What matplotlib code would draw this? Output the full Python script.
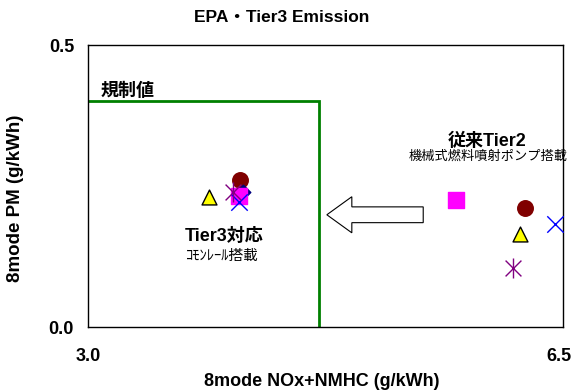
import matplotlib
matplotlib.use("Agg")
import matplotlib.pyplot as plt
from matplotlib.patches import FancyArrow
from matplotlib.transforms import ScaledTranslation

plt.rcParams["font.family"] = ["Liberation Sans", "Noto Sans CJK JP"]

# emission limit (NOx+NMHC, PM)
LIMIT_NOX = 4.7
LIMIT_PM = 0.4

# one entry per marker series: Tier3 engine vs Tier2 engine
series_names = ["circle", "diamond", "square", "triangle", "cross", "star"]
tier3_nox = [4.12, 4.14, 4.11, 3.89, 4.11, 4.07]
tier3_pm = [0.261, 0.239, 0.232, 0.230, 0.222, 0.239]
tier2_nox = [6.22, None, 5.71, 6.18, 6.44, 6.13]
tier2_pm = [0.211, None, 0.225, 0.165, 0.183, 0.105]

styles = {
    "circle": dict(marker="o", color="#800000", s=125),
    "diamond": dict(marker="D", color="#000080", s=55),
    "square": dict(marker="s", color="#ff00ff", s=120),
    "triangle": dict(marker="^", color="#ffff00", s=115, edgecolors="black",
                     linewidths=1),
    "cross": dict(marker="x", color="#0000ff", s=140, linewidths=1),
    "star": dict(marker="x", color="#800080", s=130, linewidths=1),
}

fig = plt.figure(figsize=(5.72, 3.92), dpi=100)
ax = fig.add_axes([0.1538, 0.1658, 0.8305, 0.7194])

for name, x3, y3, x2, y2 in zip(series_names, tier3_nox, tier3_pm,
                                tier2_nox, tier2_pm):
    xs = [x for x in (x3, x2) if x is not None]
    ys = [y for y in (y3, y2) if y is not None]
    ax.scatter(xs, ys, zorder=3, **styles[name])
    if name == "star":
        # asterisk = x plus a vertical bar
        ax.scatter(xs, ys, marker="|", color="#800080", s=200, linewidths=1,
                   zorder=3)

# regulation box
ax.plot([3.0, LIMIT_NOX, LIMIT_NOX], [LIMIT_PM, LIMIT_PM, 0.0],
        color="#008000", lw=2, zorder=2, solid_joinstyle="miter")
ax.text(3.09, LIMIT_PM + 0.002, "規制値", fontsize=13, fontweight="bold",
        va="bottom", ha="left")

# Tier2 -> Tier3 arrow
ax.add_patch(FancyArrow(5.47, 0.199, 4.76 - 5.47, 0, width=0.028,
                        head_width=0.064, head_length=0.184,
                        length_includes_head=True, fc="white", ec="black",
                        lw=0.8, zorder=2))

ax.text(5.94, 0.330, "従来Tier2", fontsize=13, fontweight="bold",
        ha="center", va="center")
ax.text(5.95, 0.303, "機械式燃料噴射ポンプ搭載", fontsize=9.5,
        ha="center", va="center")
ax.text(4.0, 0.160, "Tier3対応", fontsize=13, fontweight="bold",
        ha="center", va="center")
ax.text(3.99, 0.126, "ｺﾓﾝﾚｰﾙ搭載", fontsize=10.5,
        ha="center", va="center")

ax.set_xlim(3.0, 6.5)
ax.set_ylim(0.0, 0.5)
ax.set_xticks([3.0, 6.5], ["3.0", "6.5"])
ax.set_yticks([0.0, 0.5], ["0.0", "0.5"])
ax.tick_params(length=0, labelsize=13)
ax.tick_params(axis="x", pad=15)
ax.tick_params(axis="y", pad=10)
for lab in ax.get_xticklabels() + ax.get_yticklabels():
    lab.set_fontweight("bold")
# keep the last x label inside the figure edge
last = ax.get_xticklabels()[-1]
last.set_ha("right")
last.set_transform(last.get_transform()
                   + ScaledTranslation(8 / 100, 0, fig.dpi_scale_trans))
for sp in ax.spines.values():
    sp.set_linewidth(1)

ax.set_xlabel("8mode NOx+NMHC (g/kWh)", fontsize=13, fontweight="bold")
ax.set_ylabel("8mode PM (g/kWh)", fontsize=13.5, fontweight="bold")
ax.xaxis.set_label_coords(0.493, -0.163)
ax.yaxis.set_label_coords(-0.135, 0.456)
fig.text(282 / 572, 1 - 18 / 392, "EPA・Tier3 Emission", fontsize=12.5,
         fontweight="bold", ha="center", va="center")

fig.savefig("out.png", dpi=100)
